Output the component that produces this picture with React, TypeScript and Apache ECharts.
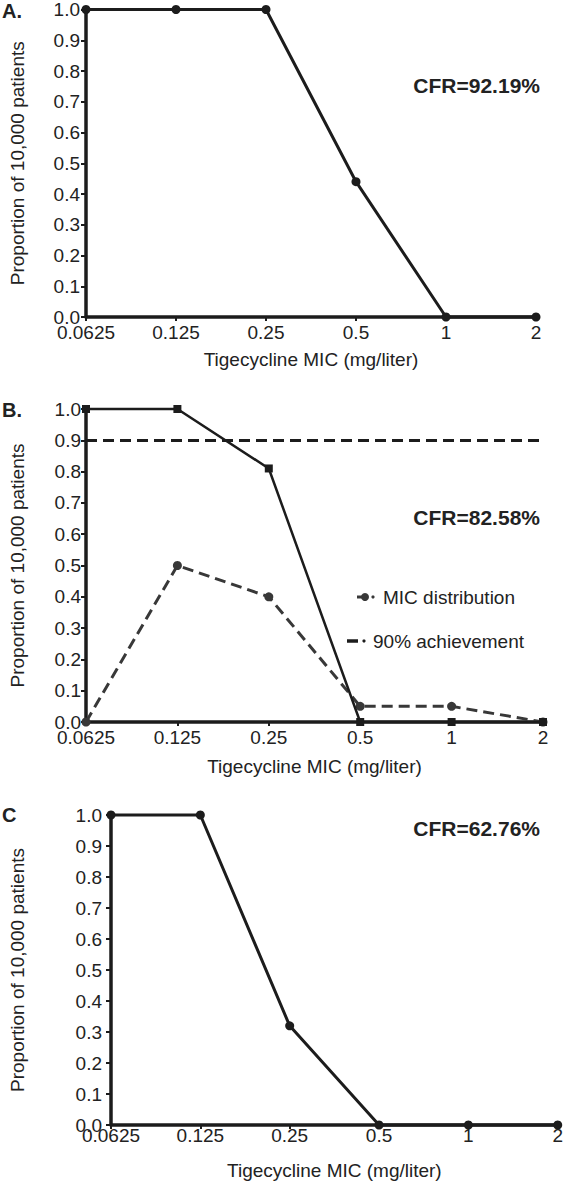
import React, { useEffect, useRef } from "react";
import * as echarts from "echarts";

const micLabels = ["0.0625", "0.125", "0.25", "0.5", "1", "2"];
const panelAProbability = [1, 1, 1, 0.44, 0, 0];
const panelBProbability = [1, 1, 0.81, 0, 0, 0];
const panelBMicDistribution = [0, 0.5, 0.4, 0.05, 0.05, 0];
const panelBTarget = 0.9;
const panelCProbability = [1, 1, 0.32, 0, 0, 0];
const panelLetters = ["A.", "B.", "C"];
const cfrTexts = ["CFR=92.19%", "CFR=82.58%", "CFR=62.76%"];
const legendLabels = ["MIC distribution", "90% achievement"];
const xTitle = "Tigecycline MIC (mg/liter)";
const yTitle = "Proportion of 10,000 patients";

const FONT = "'Liberation Sans', Arial, Helvetica, sans-serif";
const INK = "#1c1c1c";
const GREY = "#383838";
const TEXT = "#222";

export default function App() {
  const ref = useRef<HTMLDivElement>(null);
  useEffect(() => {
    if (!ref.current) return;
    const chart = echarts.init(ref.current, undefined, { renderer: "svg", width: 566, height: 1183 });

    const grids = [
      { left: 73, right: 30, top: 7, height: 310 },
      { left: 73, right: 23, top: 409, height: 313 },
      { left: 97, right: 5, top: 815, height: 310 },
    ];
    const xLabelMargin = [8, 8, 3];
    const xNameGap = [33, 35, 36];
    const yLabelMargin = [6, 5, 9];
    const yNameGap = [59, 59, 84];

    const xAxes = grids.map((_, i) => ({
      type: "category",
      gridIndex: i,
      data: micLabels,
      boundaryGap: false,
      name: xTitle,
      nameLocation: "middle",
      nameGap: xNameGap[i],
      nameTextStyle: { fontFamily: FONT, fontSize: 19, color: TEXT },
      axisLine: { lineStyle: { color: INK, width: 3.5 } },
      axisTick: { show: true, length: 4, lineStyle: { color: INK, width: 2 }, alignWithLabel: true },
      axisLabel: {
        fontFamily: FONT,
        fontSize: 19,
        lineHeight: 15,
        color: TEXT,
        margin: xLabelMargin[i],
        interval: 0,
      },
      splitLine: { show: false },
    }));
    const yAxes = grids.map((_, i) => ({
      type: "value",
      gridIndex: i,
      min: 0,
      max: 1,
      interval: 0.1,
      name: yTitle,
      nameLocation: "middle",
      nameGap: yNameGap[i],
      nameTextStyle: { fontFamily: FONT, fontSize: 19, color: TEXT },
      axisLine: { show: true, lineStyle: { color: INK, width: 3.5 } },
      axisTick: { show: true, length: 5, lineStyle: { color: INK, width: 2 } },
      axisLabel: {
        fontFamily: FONT,
        fontSize: 19,
        lineHeight: 15,
        color: TEXT,
        margin: yLabelMargin[i],
        formatter: (v: number) => v.toFixed(1),
      },
      splitLine: { show: false },
    }));

    const solid = (data: number[], idx: number, symbol: string) => ({
      type: "line",
      xAxisIndex: idx,
      yAxisIndex: idx,
      data,
      symbol,
      symbolSize: 9,
      clip: false,
      lineStyle: { color: INK, width: 3 },
      itemStyle: { color: INK },
      z: 5,
    });

    const graphics: any[] = [];
    const letterY = [11, 410, 815];
    panelLetters.forEach((t, i) => {
      graphics.push({
        type: "text",
        x: 2,
        y: letterY[i],
        style: {
          text: t,
          fontFamily: FONT,
          fontSize: 20,
          fontWeight: "bold",
          fill: TEXT,
          verticalAlign: "middle",
        },
      });
    });
    const cfrY = [85, 517, 828];
    cfrTexts.forEach((t, i) => {
      graphics.push({
        type: "text",
        x: 540,
        y: cfrY[i],
        style: {
          text: t,
          fontFamily: FONT,
          fontSize: 21,
          fontWeight: "bold",
          fill: TEXT,
          align: "right",
          verticalAlign: "middle",
        },
      });
    });
    // legend for panel B
    graphics.push(
      { type: "line", shape: { x1: 357, y1: 597, x2: 368, y2: 597 }, style: { stroke: GREY, lineWidth: 3 } },
      { type: "circle", shape: { cx: 365, cy: 597, r: 4 }, style: { fill: GREY } },
      { type: "circle", shape: { cx: 373, cy: 597, r: 1.6 }, style: { fill: GREY } },
      {
        type: "text",
        x: 383,
        y: 597,
        style: { text: legendLabels[0], fontFamily: FONT, fontSize: 19, fill: TEXT, verticalAlign: "middle" },
      },
      { type: "line", shape: { x1: 347, y1: 641, x2: 358, y2: 641 }, style: { stroke: INK, lineWidth: 3.5 } },
      { type: "circle", shape: { cx: 364, cy: 641, r: 1.6 }, style: { fill: INK } },
      {
        type: "text",
        x: 373,
        y: 641,
        style: { text: legendLabels[1], fontFamily: FONT, fontSize: 19, fill: TEXT, verticalAlign: "middle" },
      }
    );

    chart.setOption({
      animation: false,
      backgroundColor: "#ffffff",
      textStyle: { fontFamily: FONT },
      grid: grids,
      xAxis: xAxes,
      yAxis: yAxes,
      series: [
        solid(panelAProbability, 0, "circle"),
        {
          ...solid(panelBProbability, 1, "rect"),
          symbolSize: 8,
          lineStyle: { color: INK, width: 2.5 },
          markLine: {
            silent: true,
            symbol: "none",
            label: { show: false },
            lineStyle: { color: INK, width: 3, type: [11, 6] },
            data: [{ yAxis: panelBTarget }],
          },
        },
        {
          type: "line",
          xAxisIndex: 1,
          yAxisIndex: 1,
          data: panelBMicDistribution,
          symbol: "circle",
          symbolSize: 9,
          clip: false,
          lineStyle: { color: GREY, width: 3, type: [11, 6] },
          itemStyle: { color: GREY },
          z: 4,
        },
        solid(panelCProbability, 2, "circle"),
      ],
      graphic: graphics,
    });
    return () => chart.dispose();
  }, []);
  return (
    <div
      ref={ref}
      style={{ position: "absolute", left: 0, top: 0, width: 566, height: 1183, background: "#fff" }}
    />
  );
}
